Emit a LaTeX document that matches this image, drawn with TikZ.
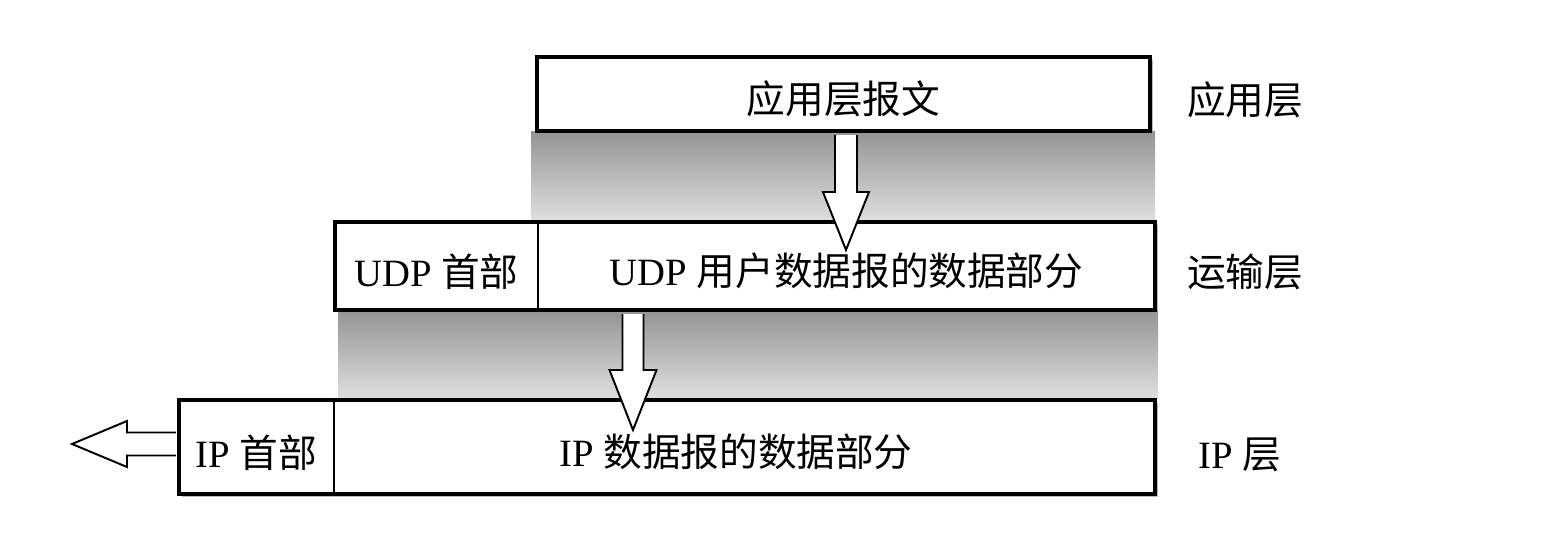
\documentclass[tikz,border=0pt]{standalone}
\usepackage{fontspec}
\setmainfont{Liberation Serif}
\newfontfamily\cjk{Noto Sans CJK SC}
\usetikzlibrary{calc,shadows}
\begin{document}
\begin{tikzpicture}[x=0.02cm,y=-0.02cm,
  txt/.style={font=\fontsize{22}{26}\selectfont, inner sep=0pt},
  layerbox/.style={draw=black, line width=2.5pt, fill=white, inner sep=0pt,
    drop shadow={shadow xshift=1.8pt, shadow yshift=-1.8pt, fill=black!40, opacity=0.7}},
  cell/.style={inner sep=0pt, font=\fontsize{22}{26}\selectfont, yshift=-3pt},
  divider/.style={line width=1.1pt},
  band/.style={top color=black!42, bottom color=black!12, draw=none},
  blockarrow/.style={draw=black, fill=white, line width=1.1pt, line join=miter}]
\useasboundingbox (0,0) rectangle (1552,548);

% shaded bands between the layers
\path[band] (531,131) rectangle (1155,222);
\path[band] (338,310) rectangle (1158,400);

% application layer
\node[layerbox, minimum width=12.26cm, minimum height=1.48cm] (app) at (843.5,94) {};
\node[cell] (apptxt) at (app.center) {{\cjk 应用层报文}};

% transport layer
\node[layerbox, minimum width=16.4cm, minimum height=1.76cm] (tbox) at (745,266) {};
\node[cell, minimum width=4.06cm] (thdr) at (436.5,266) {UDP {\cjk 首部}};
\node[cell, minimum width=12.34cm] (tdata) at (846.5,266) {UDP {\cjk 用户数据报的数据部分}};
\draw[divider] (thdr.east |- tbox.north) -- (thdr.east |- tbox.south);

% network layer
\node[layerbox, minimum width=19.52cm, minimum height=1.88cm] (ipbox) at (667,447) {};
\node[cell, minimum width=3.1cm] (iphdr) at (256.5,447) {IP {\cjk 首部}};
\node[cell, minimum width=16.42cm] (ipdata) at (736,447) {IP {\cjk 数据报的数据部分}};
\draw[divider] (iphdr.east |- ipbox.north) -- (iphdr.east |- ipbox.south);

% layer names
\node[txt] (lapp) at (1245,100) {{\cjk 应用层}};
\node[txt] (ltrans) at (1245,272) {{\cjk 运输层}};
\node[txt] (lip) at (1240,455) {IP {\cjk 层}};

% block arrows
\coordinate (a1top) at (app.south -| 846,0);
\coordinate (a1tip) at (846,250);
\draw[blockarrow] ($(a1top)+(-11,2)$) -- ($(a1tip)+(-11,-58)$) -- ($(a1tip)+(-23,-58)$)
  -- (a1tip) -- ($(a1tip)+(23,-58)$) -- ($(a1tip)+(11,-58)$) -- ($(a1top)+(11,2)$);

\coordinate (a2top) at (tbox.south -| 633,0);
\coordinate (a2tip) at (633,430);
\draw[blockarrow] ($(a2top)+(-10.5,2)$) -- ($(a2tip)+(-10.5,-60)$) -- ($(a2tip)+(-23.5,-60)$)
  -- (a2tip) -- ($(a2tip)+(23.5,-60)$) -- ($(a2tip)+(10.5,-60)$) -- ($(a2top)+(10.5,2)$);

\coordinate (a3start) at (ipbox.west |- 0,444);
\coordinate (a3tip) at (72,444);
\draw[blockarrow] ($(a3start)+(-1,-11.5)$) -- ($(a3tip)+(55,-11.5)$) -- ($(a3tip)+(55,-23)$)
  -- (a3tip) -- ($(a3tip)+(55,23)$) -- ($(a3tip)+(55,11.5)$) -- ($(a3start)+(-1,11.5)$);
\end{tikzpicture}
\end{document}
